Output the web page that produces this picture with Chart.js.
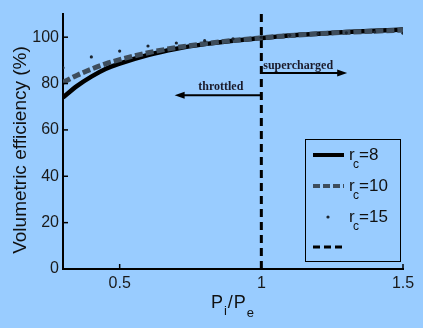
<!DOCTYPE html>
<html lang="en">
<head>
<meta charset="UTF-8">
<title>Volumetric efficiency</title>
<script src="https://cdn.jsdelivr.net/npm/chart.js"></script>
<style>
  html, body { margin: 0; padding: 0; background: #99ccff; }
  #box { width: 423px; height: 328px; }
</style>
</head>
<body>
<div id="box"><canvas id="grafico"></canvas></div>

<script>
// pressure ratio Pi/Pe and volumetric efficiency (%)
var ratioLines = [0.3, 0.35, 0.4, 0.45, 0.5, 0.6, 0.7, 0.8, 0.9, 1.0, 1.1, 1.2, 1.3, 1.4, 1.5];
var effRc8  = [74, 79, 83, 86.3, 88.6, 92.3, 95, 97, 98.5, 99.6, 100.7, 101.5, 102.2, 102.8, 103.3];
var effRc10 = [80.5, 83.6, 86.2, 88.5, 90.3, 93.3, 95.5, 97.2, 98.6, 99.7, 100.7, 101.5, 102.1, 102.6, 103];
var ratioDots = [0.3, 0.4, 0.5, 0.6, 0.7, 0.8, 0.9, 1.0, 1.1, 1.2, 1.3, 1.4, 1.5];
var effRc15 = [86.8, 91.5, 94, 96.2, 97.5, 98.5, 99.3, 100, 100.8, 101.4, 101.9, 102.2, 101.7];
var limitRatio = [1, 1];
var limitEff = [0, 110];
var ticksX = [0.5, 1, 1.5];
var ticksY = [0, 20, 40, 60, 80, 100];
var legendRc = ['8', '10', '15', ''];

var FONT = "'Liberation Sans', Arial, sans-serif";
var SERIF = "'Liberation Serif', 'Times New Roman', serif";

function pts(xs, ys) {
    return xs.map(function (v, i) { return { x: v, y: ys[i] }; });
}

var datasets = [
    { label: 'rc=8', data: pts(ratioLines, effRc8), borderColor: '#000', borderWidth: 4.5,
      pointRadius: 0, cubicInterpolationMode: 'monotone', order: 2 },
    { label: 'rc=10', data: pts(ratioLines, effRc10), borderColor: '#3e4d5c', borderWidth: 5,
      borderDash: [8, 3], pointRadius: 0, cubicInterpolationMode: 'monotone', order: 1 },
    { label: 'rc=15', data: pts(ratioDots, effRc15), showLine: false, pointRadius: 1.6,
      pointBorderWidth: 0, pointBackgroundColor: '#1c2530', order: 0 },
    { label: '', data: pts(limitRatio, limitEff), borderColor: '#000', borderWidth: 3,
      borderDash: [8, 5], pointRadius: 0, order: 3 }
];

function seta(ctx, x1, x2, y) {
    var dir = x2 > x1 ? 1 : -1;
    ctx.beginPath();
    ctx.moveTo(x1, y);
    ctx.lineTo(x2 - dir * 6, y);
    ctx.stroke();
    ctx.beginPath();
    ctx.moveTo(x2, y);
    ctx.lineTo(x2 - dir * 10, y - 3.5);
    ctx.lineTo(x2 - dir * 10, y + 3.5);
    ctx.closePath();
    ctx.fill();
}

var desenhos = {
    id: 'desenhos',
    beforeDraw: function (chart) {
        var ctx = chart.ctx;
        ctx.save();
        ctx.fillStyle = '#99ccff';
        ctx.fillRect(0, 0, chart.width, chart.height);
        ctx.restore();
    },
    afterDraw: function (chart) {
        var ctx = chart.ctx, a = chart.chartArea;
        var sx = chart.scales.x, sy = chart.scales.y;
        ctx.save();

        // ticks pointing inside
        ctx.strokeStyle = '#000';
        ctx.lineWidth = 1.5;
        ticksX.forEach(function (v) {
            var p = sx.getPixelForValue(v);
            ctx.beginPath(); ctx.moveTo(p, a.bottom); ctx.lineTo(p, a.bottom - 5); ctx.stroke();
        });
        ticksY.forEach(function (v) {
            var p = sy.getPixelForValue(v);
            ctx.beginPath(); ctx.moveTo(a.left, p); ctx.lineTo(a.left + 5, p); ctx.stroke();
        });

        // arrows + labels
        ctx.fillStyle = '#000';
        ctx.lineWidth = 2;
        var x1 = sx.getPixelForValue(1);
        seta(ctx, x1, sx.getPixelForValue(1.303), sy.getPixelForValue(84.6));
        seta(ctx, x1, sx.getPixelForValue(0.694), sy.getPixelForValue(75));
        ctx.font = 'bold 12px ' + SERIF;
        ctx.fillStyle = '#1a1a2a';
        ctx.textAlign = 'center';
        ctx.textBaseline = 'alphabetic';
        ctx.fillText('supercharged', sx.getPixelForValue(1.13), sy.getPixelForValue(86.3));
        ctx.fillText('throttled', sx.getPixelForValue(0.857), sy.getPixelForValue(77.2));

        // y title
        ctx.fillStyle = '#111';
        ctx.font = '19px ' + FONT;
        ctx.textBaseline = 'middle';
        ctx.translate(21, 150);
        ctx.rotate(-Math.PI / 2);
        ctx.fillText('Volumetric efficiency (%)', 0, 0);
        ctx.setTransform(1, 0, 0, 1, 0, 0);

        // x title P_i/P_e
        ctx.textAlign = 'left';
        ctx.textBaseline = 'alphabetic';
        var big = '18px ' + FONT, small = '13px ' + FONT;
        var parts = [['P', big, 0], ['i', small, 7], ['/', big, 0], ['P', big, 0], ['e', small, 9]];
        var w = 0;
        parts.forEach(function (p) { ctx.font = p[1]; w += ctx.measureText(p[0]).width + 1; });
        var cx = (a.left + a.right) / 2 - w / 2;
        parts.forEach(function (p) {
            ctx.font = p[1];
            ctx.fillText(p[0], cx, 308 + p[2]);
            cx += ctx.measureText(p[0]).width + 1;
        });

        // legend
        ctx.strokeStyle = '#000';
        ctx.lineWidth = 1;
        ctx.strokeRect(305.5, 139.5, 95, 122);
        var rows = [155, 186, 217, 247];
        chart.data.datasets.forEach(function (ds, i) {
            var yy = rows[i];
            if (ds.showLine === false) {
                ctx.fillStyle = ds.pointBackgroundColor;
                ctx.beginPath(); ctx.arc(328, yy, 1.6, 0, Math.PI * 2); ctx.fill();
            } else {
                ctx.strokeStyle = ds.borderColor;
                ctx.lineWidth = i === 1 ? 4 : ds.borderWidth - (i === 0 ? 0.5 : 0);
                ctx.setLineDash(i === 1 ? [7, 3] : (ds.borderDash ? [7, 4] : []));
                ctx.beginPath(); ctx.moveTo(313, yy); ctx.lineTo(344, yy); ctx.stroke();
                ctx.setLineDash([]);
            }
            if (legendRc[i]) {
                ctx.fillStyle = '#111';
                ctx.font = '17px ' + FONT;
                ctx.fillText('r', 349, yy + 5);
                ctx.font = '12px ' + FONT;
                ctx.fillText('c', 353, yy + 12.5);
                ctx.font = '17px ' + FONT;
                ctx.fillText('=' + legendRc[i], 359, yy + 5);
            }
        });
        ctx.restore();
    }
};

new Chart(document.getElementById('grafico'), {
    type: 'line',
    data: { datasets: datasets },
    options: {
        responsive: true,
        maintainAspectRatio: false,
        animation: false,
        layout: { padding: { top: 14, right: 20, left: 0, bottom: 0 } },
        plugins: { legend: { display: false }, tooltip: { enabled: false } },
        scales: {
            x: {
                type: 'linear', min: 0.3, max: 1.5,
                afterBuildTicks: function (s) { s.ticks = ticksX.map(function (v) { return { value: v }; }); },
                afterFit: function (s) { s.height = 59; },
                grid: { display: false, drawTicks: false },
                border: { display: true, color: '#000', width: 2 },
                ticks: { color: '#1a1a1a', padding: 5, font: { family: FONT, size: 16 },
                         callback: function (v) { return String(v); } }
            },
            y: {
                type: 'linear', min: 0, max: 110,
                afterBuildTicks: function (s) { s.ticks = ticksY.map(function (v) { return { value: v }; }); },
                afterFit: function (s) { s.width = 63; },
                grid: { display: false, drawTicks: false },
                border: { display: true, color: '#000', width: 2 },
                ticks: { color: '#1a1a1a', padding: 4, font: { family: FONT, size: 16 } }
            }
        }
    },
    plugins: [desenhos]
});
</script>
</body>
</html>
